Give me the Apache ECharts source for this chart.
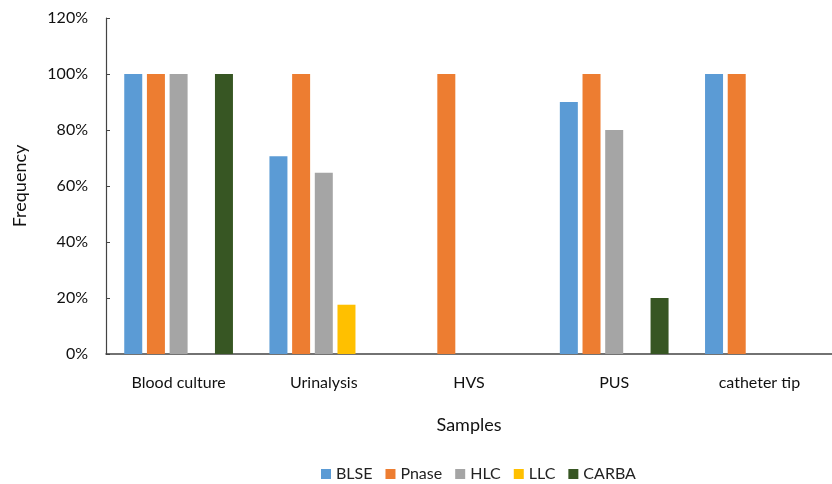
<!DOCTYPE html>
<html>
<head>
<meta charset="utf-8">
<script src="https://cdn.jsdelivr.net/npm/echarts@6/dist/echarts.min.js"></script>
<style>
    html, body { margin: 0; padding: 0; background: #fff; }
    #chart { width: 832px; height: 484px; }
</style>
</head>
<body>
<div id="chart"></div>
<script>
var samples = ['Blood culture', 'Urinalysis', 'HVS', 'PUS', 'catheter tip'];
var yTicks = [0, 20, 40, 60, 80, 100, 120];
// 频率 (%)
var blse = [100, 70.6, 0, 90, 100];
var pnase = [100, 100, 100, 100, 100];
var hlc = [100, 64.7, 0, 80, 0];
var llc = [0, 17.6, 0, 0, 0];
var carba = [100, 0, 0, 20, 0];

var chart = echarts.init(document.getElementById('chart'));
var font = 'Lato, "Open Sans", sans-serif';

function bar(name, data, color) {
    return {
        name: name,
        type: 'bar',
        data: data,
        barWidth: 18,
        barGap: '26%',
        itemStyle: { color: color }
    };
}

var option = {
    animation: false,
    textStyle: { fontFamily: font },
    // 绘图区右侧超出画布，与原图一致
    grid: { left: 106, width: 734, top: 18, bottom: 130 },
    legend: {
        top: 461,
        left: 316,
        itemWidth: 10,
        itemHeight: 10,
        itemGap: 13,
        icon: 'rect',
        textStyle: { fontSize: 16, color: '#222', fontFamily: font },
        data: ['BLSE', 'Pnase', 'HLC', 'LLC', 'CARBA']
    },
    xAxis: {
        type: 'category',
        data: samples,
        name: 'Samples',
        nameLocation: 'middle',
        nameGap: 62,
        nameTextStyle: { fontSize: 18, color: '#111', fontFamily: font },
        axisLine: { lineStyle: { color: '#444', width: 1.5 } },
        axisTick: { show: false },
        axisLabel: { margin: 21, fontSize: 16, color: '#111', fontFamily: font }
    },
    yAxis: {
        type: 'value',
        min: 0,
        max: 120,
        interval: 20,
        name: 'Frequency',
        nameLocation: 'middle',
        nameGap: 77,
        nameTextStyle: { fontSize: 18, color: '#111', fontFamily: font },
        axisLine: { show: true, lineStyle: { color: '#444', width: 1.2 } },
        axisTick: { show: true, inside: true, length: 4, lineStyle: { color: '#444' } },
        splitLine: { show: false },
        axisLabel: {
            margin: 18,
            fontSize: 16,
            color: '#111',
            fontFamily: font,
            formatter: function (v) { return yTicks.indexOf(v) >= 0 ? v + '%' : ''; }
        }
    },
    series: [
        bar('BLSE', blse, '#5B9BD5'),
        bar('Pnase', pnase, '#ED7D31'),
        bar('HLC', hlc, '#A5A5A5'),
        bar('LLC', llc, '#FFC000'),
        bar('CARBA', carba, '#375623')
    ]
};
chart.setOption(option);
</script>
</body>
</html>
